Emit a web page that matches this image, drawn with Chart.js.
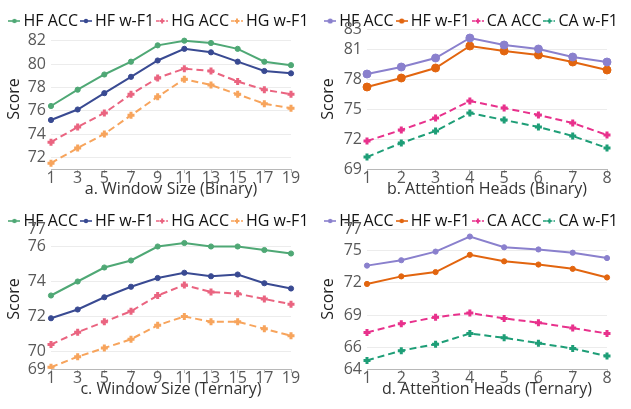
<!DOCTYPE html>
<html>
<head>
<meta charset="utf-8">
<script src="https://cdn.jsdelivr.net/npm/chart.js@4.4.0/dist/chart.umd.min.js"></script>
<style>
  body { margin: 0; background: #fff; width: 631px; height: 409px; position: relative; overflow: hidden; }
  canvas { position: absolute; }
</style>
</head>
<body>
<canvas id="chartA" width="318" height="200" style="left:2px;top:0"></canvas>
<canvas id="chartB" width="315" height="200" style="left:316px;top:0"></canvas>
<canvas id="chartC" width="318" height="200" style="left:2px;top:200px"></canvas>
<canvas id="chartD" width="315" height="200" style="left:316px;top:200px"></canvas>
<script>
// categories
const windowSizes = ['1', '3', '5', '7', '9', '11', '13', '15', '17', '19'];
const attentionHeads = ['1', '2', '3', '4', '5', '6', '7', '8'];

// y tick labels per panel
const aTicks = [72, 74, 76, 78, 80, 82];
const bTicks = [69, 72, 75, 78, 81, 83];
const cTicks = [69, 70, 72, 74, 76, 77];
const dTicks = [64, 66, 69, 72, 75, 77];

// a. Window Size (Binary)
const aHfAcc = [76.4, 77.8, 79.1, 80.2, 81.6, 82.0, 81.8, 81.3, 80.2, 79.9];
const aHfF1  = [75.2, 76.1, 77.5, 78.9, 80.3, 81.3, 81.0, 80.2, 79.4, 79.2];
const aHgAcc = [73.3, 74.6, 75.8, 77.4, 78.8, 79.6, 79.4, 78.5, 77.8, 77.4];
const aHgF1  = [71.5, 72.8, 74.0, 75.6, 77.2, 78.7, 78.2, 77.4, 76.6, 76.2];

// b. Attention Heads (Binary)
const bHfAcc = [78.5, 79.2, 80.1, 82.1, 81.4, 81.0, 80.2, 79.7];
const bHfF1  = [77.2, 78.1, 79.1, 81.3, 80.8, 80.4, 79.7, 78.9];
const bCaAcc = [71.8, 72.9, 74.1, 75.8, 75.1, 74.4, 73.6, 72.4];
const bCaF1  = [70.2, 71.6, 72.8, 74.6, 73.9, 73.2, 72.3, 71.1];

// c. Window Size (Ternary)
const cHfAcc = [73.2, 74.0, 74.8, 75.2, 76.0, 76.2, 76.0, 76.0, 75.8, 75.6];
const cHfF1  = [71.9, 72.4, 73.1, 73.7, 74.2, 74.5, 74.3, 74.4, 73.9, 73.6];
const cHgAcc = [70.4, 71.1, 71.7, 72.3, 73.2, 73.8, 73.4, 73.3, 73.0, 72.7];
const cHgF1  = [69.1, 69.7, 70.2, 70.7, 71.5, 72.0, 71.7, 71.7, 71.3, 70.9];

// d. Attention Heads (Ternary)
const dHfAcc = [73.6, 74.1, 74.9, 76.3, 75.3, 75.1, 74.8, 74.3];
const dHfF1  = [71.9, 72.6, 73.0, 74.6, 74.0, 73.7, 73.3, 72.5];
const dCaAcc = [67.4, 68.2, 68.8, 69.2, 68.7, 68.3, 67.8, 67.3];
const dCaF1  = [64.8, 65.7, 66.3, 67.3, 66.9, 66.4, 65.9, 65.2];

const FONT = '"Open Sans", "Noto Sans", sans-serif';

const colors = {
  green: '#4fa875', navy: '#394a92', rose: '#ea6480', peach: '#f7a45c',
  lilac: '#8a80cd', orange: '#e2650f', magenta: '#e8318c', teal: '#1e9e77'
};

// legend box is taller than needed by default, pull the plot up under it
const tightLegend = {
  id: 'tightLegend',
  beforeInit(chart) {
    const legend = chart.legend;
    if (!legend) return;
    const fit = legend.fit;
    legend.fit = function () { fit.call(this); this.height -= 10; };
  }
};

// small line+marker image used as legend symbol
function legendIcon(color, dashed, big) {
  const c = document.createElement('canvas');
  c.width = 12; c.height = 10;
  const g = c.getContext('2d');
  g.strokeStyle = color; g.fillStyle = color; g.lineWidth = 1.6;
  if (dashed) g.setLineDash([3, 2]);
  g.beginPath(); g.moveTo(0, 5); g.lineTo(12, 5); g.stroke();
  g.setLineDash([]);
  if (dashed) {
    g.fillRect(5, 2.5, 2, 5);
    g.fillRect(3.5, 4, 5, 2);
  } else {
    g.beginPath(); g.arc(6, 5, big ? 2.6 : 2.2, 0, Math.PI * 2); g.fill();
  }
  return c;
}

function series(label, data, color, dashed, big) {
  return {
    label: label,
    data: data,
    borderColor: color,
    backgroundColor: color,
    borderWidth: 2,
    borderDash: dashed ? [7, 4] : [],
    pointStyle: dashed ? 'cross' : 'circle',
    pointRadius: dashed ? 3.5 : (big ? 4 : 2.6),
    pointBorderWidth: dashed ? 3 : 1,
    pointBackgroundColor: color,
    pointBorderColor: color,
    legendIcon: legendIcon(color, dashed, big),
    tension: 0
  };
}

function makeChart(id, labels, datasets, title, yMin, yMax, yTicks, leftGap, rightGap) {
  new Chart(document.getElementById(id), {
    type: 'line',
    data: { labels: labels, datasets: datasets },
    plugins: [tightLegend],
    options: {
      responsive: false,
      animation: false,
      devicePixelRatio: 1,
      layout: { padding: { left: 0, right: 0, top: 6, bottom: 3 } },
      plugins: {
        tooltip: { enabled: false },
        legend: {
          position: 'top',
          labels: {
            font: { family: FONT, size: 16, lineHeight: 1 },
            color: '#111',
            usePointStyle: true,
            boxWidth: 2,
            boxHeight: 10,
            padding: 7,
            generateLabels: function (chart) {
              return chart.data.datasets.map((ds, i) => ({
                text: ds.label,
                pointStyle: ds.legendIcon,
                fillStyle: ds.borderColor,
                strokeStyle: ds.borderColor,
                lineWidth: 0,
                fontColor: '#111',
                datasetIndex: i
              }));
            }
          }
        }
      },
      scales: {
        x: {
          grid: { drawOnChartArea: false, drawTicks: true, tickLength: 4, color: '#b8b8b8' },
          border: { color: '#b8b8b8' },
          ticks: { font: { family: FONT, size: 16, lineHeight: 1 }, color: '#595959', padding: -3, maxRotation: 0, autoSkip: false },
          title: { display: true, text: title, font: { family: FONT, size: 16, lineHeight: 1 }, color: '#333', padding: { top: -2, bottom: 0 } }
        },
        y: {
          min: yMin,
          max: yMax,
          afterFit: function (scale) { scale.width = leftGap; },
          afterBuildTicks: function (scale) { scale.ticks = yTicks.map(v => ({ value: v })); },
          grid: { color: '#ececec', drawTicks: false },
          border: { display: false },
          ticks: { font: { family: FONT, size: 16 }, color: '#595959', padding: 5 },
          title: { display: true, text: 'Score', font: { family: FONT, size: 16 }, color: '#222', padding: 3 }
        },
        yRight: {
          position: 'right',
          afterFit: function (scale) { scale.width = rightGap; },
          grid: { display: false },
          border: { display: false },
          ticks: { display: false }
        }
      }
    }
  });
}

makeChart('chartA', windowSizes, [
  series('HF ACC', aHfAcc, colors.green, false),
  series('HF w-F1', aHfF1, colors.navy, false),
  series('HG ACC', aHgAcc, colors.rose, true),
  series('HG w-F1', aHgF1, colors.peach, true)
], 'a. Window Size (Binary)', 71, 83, aTicks, 49, 29);

makeChart('chartB', attentionHeads, [
  series('HF ACC', bHfAcc, colors.lilac, false, true),
  series('HF w-F1', bHfF1, colors.orange, false, true),
  series('CA ACC', bCaAcc, colors.magenta, true),
  series('CA w-F1', bCaF1, colors.teal, true)
], 'b. Attention Heads (Binary)', 69, 83, bTicks, 51, 24);

makeChart('chartC', windowSizes, [
  series('HF ACC', cHfAcc, colors.green, false),
  series('HF w-F1', cHfF1, colors.navy, false),
  series('HG ACC', cHgAcc, colors.rose, true),
  series('HG w-F1', cHgF1, colors.peach, true)
], 'c. Window Size (Ternary)', 69, 77, cTicks, 49, 29);

makeChart('chartD', attentionHeads, [
  series('HF ACC', dHfAcc, colors.lilac, false),
  series('HF w-F1', dHfF1, colors.orange, false),
  series('CA ACC', dCaAcc, colors.magenta, true),
  series('CA w-F1', dCaF1, colors.teal, true)
], 'd. Attention Heads (Ternary)', 64, 77, dTicks, 51, 24);
</script>
</body>
</html>
